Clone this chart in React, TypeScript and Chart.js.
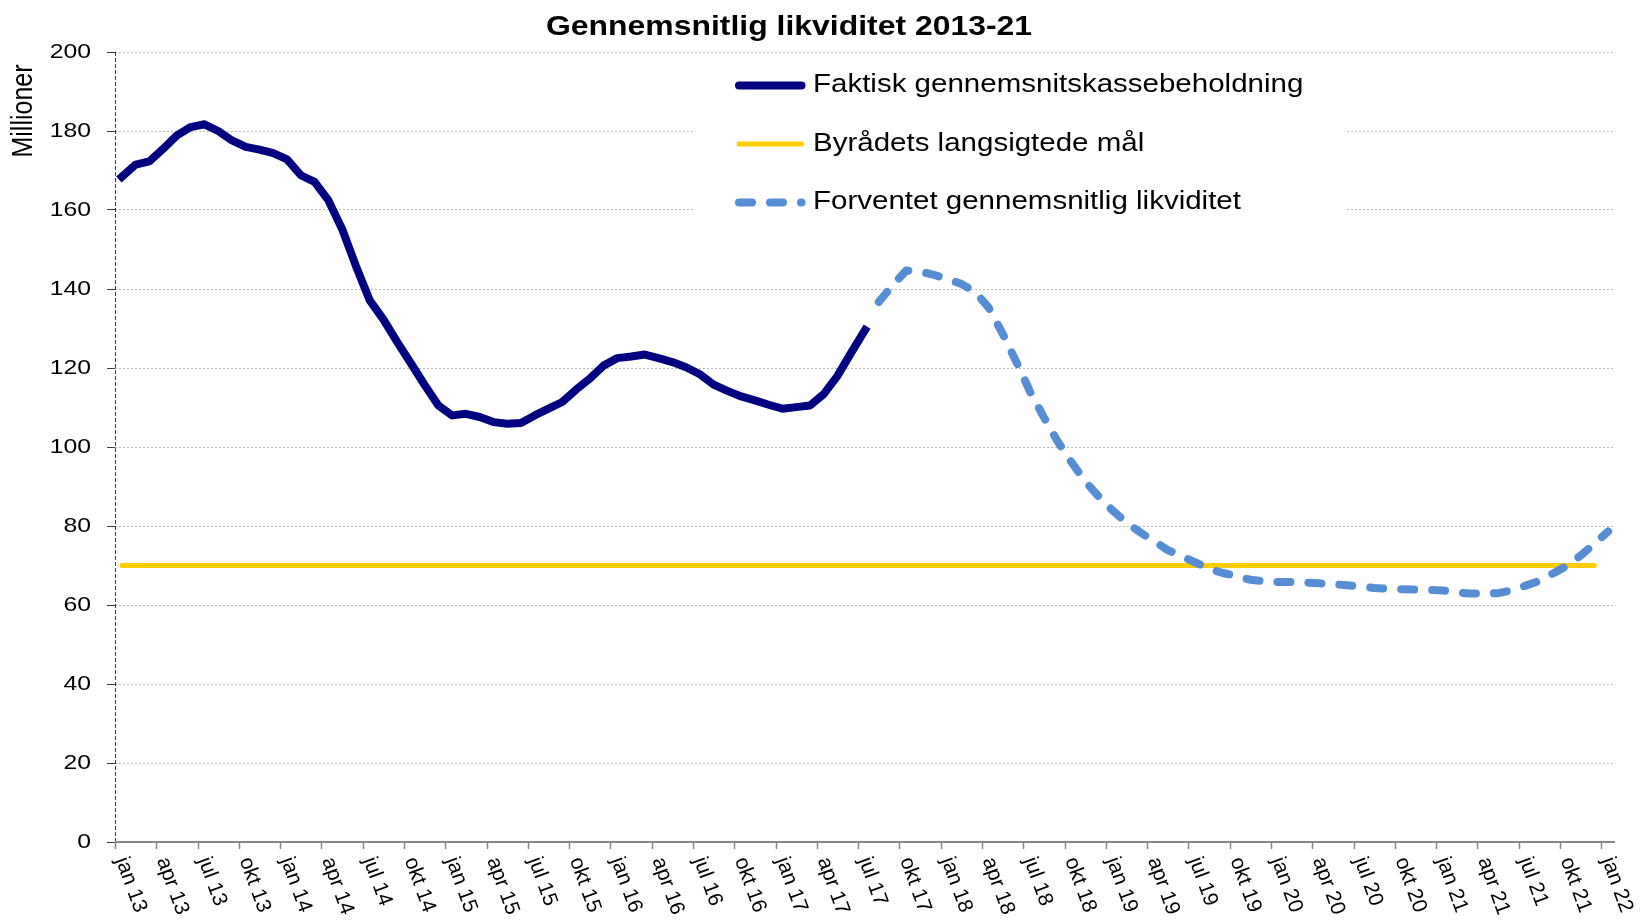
import { useEffect, useRef } from "react";
import { Chart, registerables } from "chart.js";

Chart.register(...registerables);

// ---------- data ----------
const monthNames = ["jan", "feb", "mar", "apr", "maj", "jun", "jul", "aug", "sep", "okt", "nov", "dec"];
const firstYear = 13;
const monthCount = 109; // jan 13 .. jan 22
const categories: string[] = Array.from(
  { length: monthCount },
  (_, i) => `${monthNames[i % 12]} ${firstYear + Math.floor(i / 12)}`
);

const chartTitle = "Gennemsnitlig likviditet 2013-21";
const yAxisTitle = "Millioner";
const yTicks = [0, 20, 40, 60, 80, 100, 120, 140, 160, 180, 200];

const seriesNames = [
  "Faktisk gennemsnitskassebeholdning",
  "Byrådets langsigtede mål",
  "Forventet gennemsnitlig likviditet",
];

// Faktisk gennemsnitskassebeholdning, jan 13 .. jul 17
const actualStart = "jan 13";
const actualValues = [
  168.4, 171.5, 172.3, 175.5, 178.9, 181.0, 181.7, 180.0, 177.6, 176.0,
  175.3, 174.4, 172.8, 168.8, 167.1, 162.5, 155.2, 145.9, 137.2, 132.3,
  126.6, 121.2, 115.7, 110.5, 108.0, 108.4, 107.6, 106.3, 105.9, 106.1,
  108.0, 109.7, 111.4, 114.5, 117.3, 120.6, 122.5, 122.9, 123.4, 122.5,
  121.5, 120.2, 118.4, 115.8, 114.2, 112.8, 111.8, 110.7, 109.7, 110.1,
  110.5, 113.4, 118.0, 123.9, 129.6,
];

// Byrådets langsigtede mål
const targetFrom = "jan 13";
const targetTo = "dec 21";
const targetValues = [70, 70];

// Forventet gennemsnitlig likviditet, aug 17 .. jan 22
const forecastStart = "aug 17";
const forecastValues = [
  136.7, 140.9, 144.7, 144.4, 143.6, 142.5, 141.3, 139.3, 135.2, 128.7,
  121.5, 114.0, 107.5, 101.4, 96.2, 91.3, 87.4, 83.9, 80.8, 78.4,
  76.2, 73.9, 72.4, 70.8, 69.2, 68.1, 67.3, 66.4, 66.0, 65.8,
  65.8, 65.7, 65.5, 65.3, 65.0, 64.7, 64.3, 64.1, 64.0, 63.9,
  63.8, 63.7, 63.2, 62.9, 62.9, 63.0, 63.7, 64.9, 66.1, 68.0,
  69.9, 72.5, 75.5, 78.6,
];

// ---------- styles ----------
const NAVY = "#000080";
const YELLOW = "#FFCC00";
const BLUE = "#558ED5";
const FONT = '"Liberation Sans", Arial, sans-serif';
const SX = 1.18;

function toPoints(start: string, values: number[]) {
  const s = categories.indexOf(start);
  return values.map((v, i) => ({ x: categories[s + i], y: v }));
}

function drawText(
  ctx: CanvasRenderingContext2D,
  s: string,
  x: number,
  y: number,
  size: number,
  opts: {
    bold?: boolean;
    align?: CanvasTextAlign;
    baseline?: CanvasTextBaseline;
    rot?: number;
    sx?: number;
  } = {}
) {
  ctx.save();
  ctx.translate(x, y);
  ctx.scale(opts.sx ?? SX, 1);
  if (opts.rot) ctx.rotate(opts.rot);
  ctx.font = `${opts.bold ? "bold " : ""}${size}px ${FONT}`;
  ctx.textAlign = opts.align || "left";
  ctx.textBaseline = opts.baseline || "alphabetic";
  ctx.fillStyle = "#000";
  ctx.fillText(s, 0, 0);
  ctx.restore();
}

const decorPlugin = {
  id: "decor",
  beforeDatasetsDraw(chart: any) {
    const { ctx, chartArea: a } = chart;
    const xs = chart.scales.x;
    ctx.save();
    // dashed y axis
    ctx.strokeStyle = "#3a3a3a";
    ctx.lineWidth = 1;
    ctx.setLineDash([4, 2]);
    ctx.beginPath();
    ctx.moveTo(a.left + 0.5, a.top);
    ctx.lineTo(a.left + 0.5, a.bottom);
    ctx.stroke();
    // x axis
    ctx.setLineDash([]);
    ctx.strokeStyle = "#868686";
    ctx.lineWidth = 2;
    ctx.beginPath();
    ctx.moveTo(a.left, a.bottom);
    ctx.lineTo(a.right, a.bottom);
    ctx.stroke();
    // x tick marks at month boundaries, every 3 months
    const step = xs.getPixelForValue(1) - xs.getPixelForValue(0);
    ctx.lineWidth = 1.5;
    for (let k = 0; k < categories.length; k += 3) {
      const px = Math.round(xs.getPixelForValue(k) - step / 2) + 0.5;
      ctx.beginPath();
      ctx.moveTo(px, a.bottom);
      ctx.lineTo(px, a.bottom + 7);
      ctx.stroke();
    }
    ctx.restore();
  },
  afterDraw(chart: any) {
    const { ctx, chartArea: a } = chart;
    const xs = chart.scales.x;
    const ys = chart.scales.y;
    // title
    drawText(ctx, chartTitle, 789, 35, 28, { bold: true, align: "center", sx: 1.14 });
    // y tick labels
    for (const t of yTicks) {
      drawText(ctx, String(t), 91, ys.getPixelForValue(t), 21, { align: "right", baseline: "middle" });
    }
    // y axis title
    drawText(ctx, yAxisTitle, 24, 111, 25, { align: "center", baseline: "middle", rot: -Math.PI / 2 });
    // x tick labels
    const step = xs.getPixelForValue(1) - xs.getPixelForValue(0);
    for (let k = 0; k < categories.length; k += 3) {
      const px = xs.getPixelForValue(k) - step / 2;
      drawText(ctx, categories[k], px + 6, a.bottom + 16, 21, {
        align: "left",
        baseline: "middle",
        rot: (70 * Math.PI) / 180,
        sx: 1,
      });
    }
    // legend
    ctx.save();
    ctx.fillStyle = "#fff";
    ctx.fillRect(693, 58, 654, 157);
    const rows = [85.5, 144, 202.5];
    const styles = [
      { color: NAVY, width: 8, dash: [] as number[] },
      { color: YELLOW, width: 5, dash: [] as number[] },
      { color: BLUE, width: 8, dash: [13, 18] },
    ];
    rows.forEach((ry, i) => {
      const st = styles[i];
      ctx.strokeStyle = st.color;
      ctx.lineWidth = st.width;
      ctx.lineCap = "round";
      ctx.setLineDash(st.dash);
      ctx.beginPath();
      ctx.moveTo(739, ry);
      ctx.lineTo(801.5, ry);
      ctx.stroke();
      ctx.setLineDash([]);
      drawText(ctx, seriesNames[i], 813, ry, 25, { baseline: "middle" });
    });
    ctx.restore();
  },
};

export default function App() {
  const ref = useRef<HTMLCanvasElement>(null);
  useEffect(() => {
    if (!ref.current) return;
    const chart = new Chart(ref.current, {
      type: "line",
      data: {
        labels: categories,
        datasets: [
          {
            label: seriesNames[2],
            data: toPoints(forecastStart, forecastValues) as any,
            borderColor: BLUE,
            borderWidth: 8,
            borderDash: [13, 18],
            borderCapStyle: "round",
            borderJoinStyle: "round",
            pointRadius: 0,
            fill: false,
          },
          {
            label: seriesNames[0],
            data: toPoints(actualStart, actualValues) as any,
            borderColor: NAVY,
            borderWidth: 8,
            borderCapStyle: "square",
            borderJoinStyle: "round",
            pointRadius: 0,
            fill: false,
          },
          {
            label: seriesNames[1],
            data: [
              { x: targetFrom, y: targetValues[0] },
              { x: targetTo, y: targetValues[1] },
            ] as any,
            borderColor: YELLOW,
            borderWidth: 5,
            borderCapStyle: "round",
            pointRadius: 0,
            fill: false,
          },
        ],
      },
      options: {
        responsive: false,
        animation: false,
        devicePixelRatio: 1,
        layout: { padding: { left: 107, top: 52, right: 25, bottom: 78 } },
        plugins: { legend: { display: false }, tooltip: { enabled: false }, title: { display: false } },
        scales: {
          x: {
            type: "category",
            display: false,
            offset: true,
          },
          y: {
            min: 0,
            max: 200,
            ticks: { display: false, stepSize: 20 },
            grid: {
              color: "#b8b8b8",
              lineWidth: 1,
              drawTicks: true,
              tickLength: 8,
              tickColor: "#3a3a3a",
              tickWidth: 1,
            },
            border: { display: false, dash: [2, 2] },
          },
        },
      },
      plugins: [decorPlugin],
    });
    return () => chart.destroy();
  }, []);
  return (
    <div style={{ position: "fixed", left: 0, top: 0, width: 1640, height: 920, background: "#fff" }}>
      <canvas ref={ref} width={1640} height={920} style={{ display: "block" }} />
    </div>
  );
}
